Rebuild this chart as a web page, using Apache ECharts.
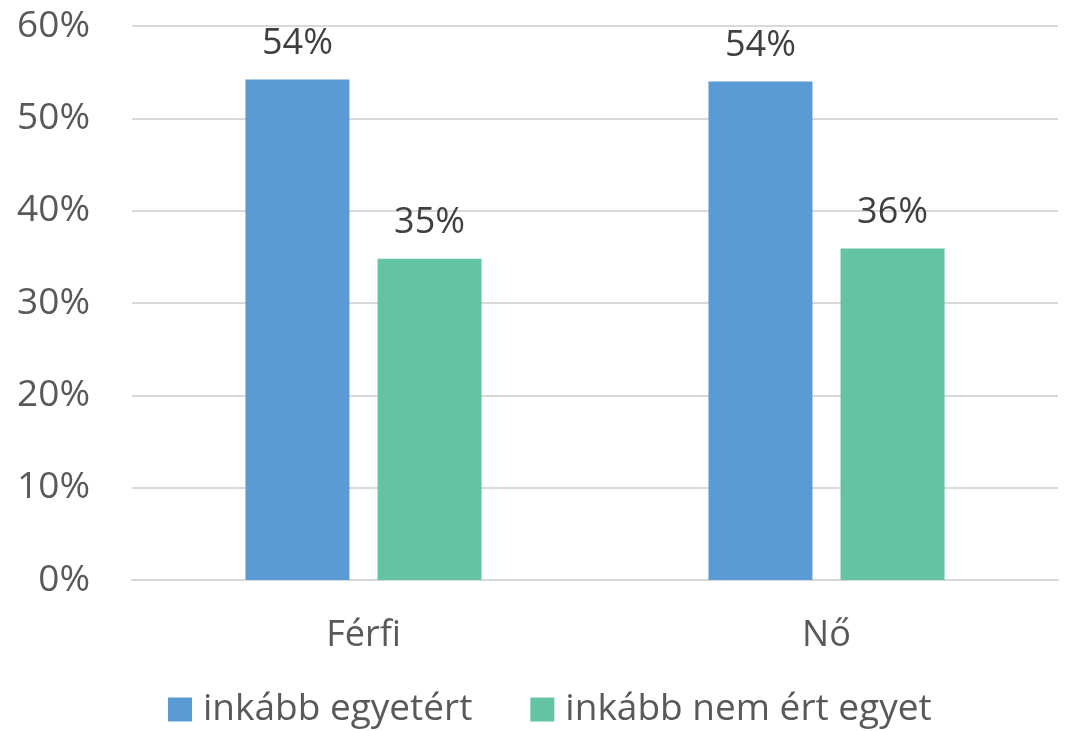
<!DOCTYPE html>
<html>
<head>
<meta charset="utf-8">
<script src="https://cdn.jsdelivr.net/npm/echarts@6/dist/echarts.min.js"></script>
<style>
  html, body { margin: 0; padding: 0; background: #fff; }
  #chart { width: 1066px; height: 731px; }
</style>
</head>
<body>
<div id="chart"></div>
<script>
const categories = ['Férfi', 'Nő']
const agreeValues = [54.2, 54.0]
const disagreeValues = [34.8, 35.9]
const seriesNames = ['inkább egyetért', 'inkább nem ért egyet']

const font = '"Open Sans", sans-serif'
const chart = echarts.init(document.getElementById('chart'), null, { renderer: 'canvas' })

const barLabel = {
  show: true,
  position: 'top',
  distance: 18,
  color: '#404040',
  fontFamily: font,
  fontSize: 36,
  formatter: p => Math.round(p.value) + '%'
}

chart.setOption({
  animation: false,
  grid: { left: 132, right: 8, top: 26, bottom: 151 },
  legend: {
    top: 686,
    left: 163,
    itemWidth: 24,
    itemHeight: 24,
    itemGap: 58,
    icon: 'rect',
    textStyle: { color: '#595959', fontFamily: font, fontSize: 37, padding: [0, 0, 0, 6] },
    data: seriesNames
  },
  xAxis: {
    type: 'category',
    data: categories,
    axisLine: { lineStyle: { color: '#d9d9d9', width: 2 } },
    axisTick: { show: false },
    axisLabel: { color: '#595959', fontFamily: font, fontSize: 36, margin: 38 }
  },
  yAxis: {
    type: 'value',
    min: 0,
    max: 60,
    interval: 10,
    axisLine: { show: false },
    axisTick: { show: false },
    splitLine: { lineStyle: { color: '#d9d9d9', width: 2 } },
    axisLabel: {
      color: '#595959', fontFamily: font, fontSize: 37, margin: 42,
      formatter: v => v + '%'
    }
  },
  series: [
    {
      name: seriesNames[0],
      type: 'bar',
      data: agreeValues,
      barWidth: 104,
      barGap: '27%',
      itemStyle: { color: '#5b9bd5' },
      label: barLabel
    },
    {
      name: seriesNames[1],
      type: 'bar',
      data: disagreeValues,
      barWidth: 104,
      itemStyle: { color: '#63c3a2' },
      label: barLabel
    }
  ]
})
</script>
</body>
</html>
